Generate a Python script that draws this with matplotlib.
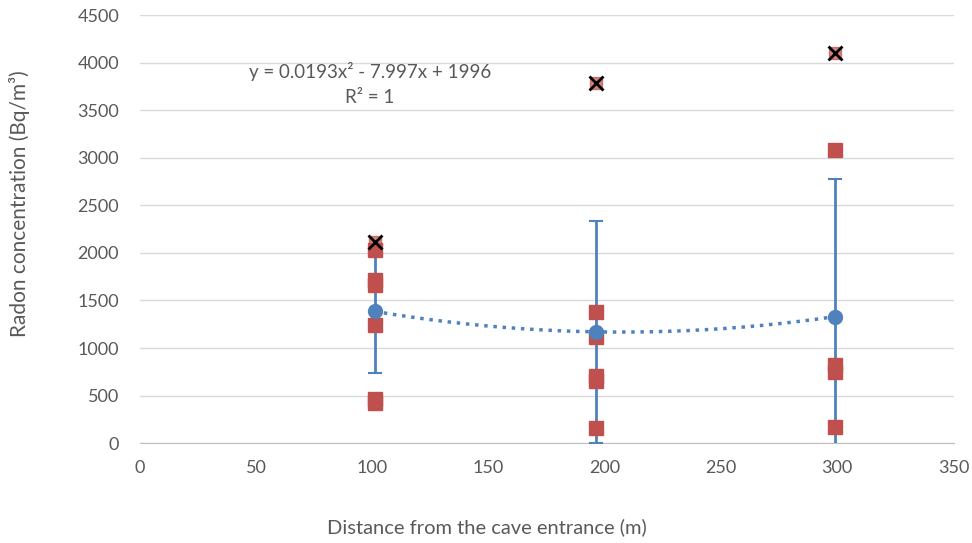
import numpy as np
import matplotlib.pyplot as plt

plt.rcParams['font.family'] = ['Lato', 'DejaVu Sans']

# mean radon concentration at each distance, with its error bar
dist = [101, 196, 299]
mean_rn = [1385, 1170, 1330]
err_rn = [645, 1165, 1450]

# individual measurements (red squares)
pts_x = [101, 101, 101, 101, 101, 101,
         196, 196, 196, 196, 196,
         299, 299, 299, 299]
pts_y = [2030, 1710, 1660, 1240, 460, 420,
         1380, 1120, 710, 650, 160,
         3085, 820, 750, 170]

# maximum values (crossed markers)
max_x = [101, 196, 299]
max_y = [2110, 3785, 4100]

grey = '#595959'
blue = '#4f81bd'
red = '#c0504d'

fig, ax = plt.subplots(figsize=(9.72, 5.43), dpi=100)
fig.subplots_adjust(left=0.144, right=0.981, bottom=0.184, top=0.972)

ax.errorbar(dist, mean_rn, yerr=err_rn, fmt='none', ecolor=blue,
            elinewidth=2, capsize=5, capthick=1.5, zorder=3)
ax.plot(pts_x, pts_y, 's', color=red, markersize=10, zorder=4)
ax.plot(max_x, max_y, 's', color=red, markersize=9, alpha=0.7, zorder=4)
ax.plot(max_x, max_y, 'x', color='black', markersize=10, mew=2, zorder=5)
ax.plot(dist, mean_rn, 'o', color=blue, markersize=10, zorder=6)

# quadratic trendline through the means
coef = np.polyfit(dist, mean_rn, 2)
xs = np.linspace(dist[0], dist[-1], 200)
ax.plot(xs, np.polyval(coef, xs), ':', color=blue, lw=2.5, zorder=5)

ax.text(99, 3911, 'y = 0.0193x² - 7.997x + 1996', ha='center', va='center',
        fontsize=13.5, color=grey)
ax.text(99, 3638, 'R² = 1', ha='center', va='center', fontsize=13.5, color=grey)

ax.set_xlim(0, 350)
ax.set_ylim(0, 4500)
ax.set_xticks(range(0, 351, 50))
ax.set_yticks(range(0, 4501, 500))
ax.grid(axis='y', color='#d9d9d9', lw=1)
ax.set_axisbelow(True)
for s in ['top', 'right', 'left']:
    ax.spines[s].set_visible(False)
ax.spines['bottom'].set_color('#bfbfbf')
ax.tick_params(length=0, labelsize=13, labelcolor=grey)
ax.tick_params(axis='y', pad=15)
ax.tick_params(axis='x', pad=12)

fig.text(487 / 972, 1 - 527 / 543, 'Distance from the cave entrance (m)',
         ha='center', va='center', fontsize=14.5, color=grey)
fig.text(20 / 972, 1 - 204 / 543, 'Radon concentration (Bq/m³)', rotation=90,
         ha='center', va='center', fontsize=15, color=grey)

plt.savefig('out.png', dpi=100)
